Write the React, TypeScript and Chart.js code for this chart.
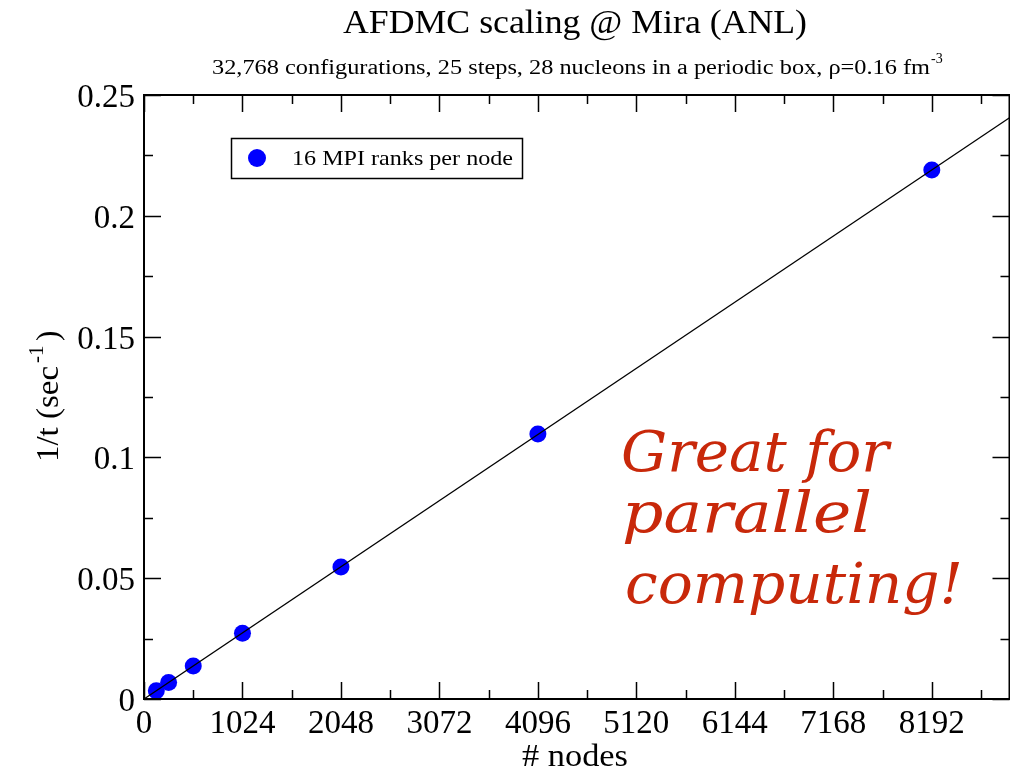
import React, { useEffect, useRef } from "react";
import { Chart, registerables } from "chart.js";

Chart.register(...registerables);

const nodes = [128, 256, 512, 1024, 2048, 4096, 8192];
const invTime = [0.0034, 0.0068, 0.0137, 0.0272, 0.0546, 0.1097, 0.2190];
const fitX = [0, 9000];
const fitY = [0, 0.2406];
const xTicks = [0, 1024, 2048, 3072, 4096, 5120, 6144, 7168, 8192];
const xMinorTicks = [512, 1536, 2560, 3584, 4608, 5632, 6656, 7680, 8704];
const yTicks = [0, 0.05, 0.1, 0.15, 0.2, 0.25];
const yMinorTicks = [0.025, 0.075, 0.125, 0.175, 0.225];
const yTickLabels = ["0", "0.05", "0.1", "0.15", "0.2", "0.25"];

const SERIF = "'Liberation Serif', 'Times New Roman', serif";

function fillStretched(ctx: any, text: string, x: number, y: number, target: number, align: "left" | "center" | "right") {
  const w = ctx.measureText(text).width;
  const sx = target / w;
  ctx.save();
  ctx.textAlign = "left";
  let x0 = x;
  if (align === "center") x0 = x - target / 2;
  if (align === "right") x0 = x - target;
  ctx.translate(x0, y);
  ctx.scale(sx, 1);
  ctx.fillText(text, 0, 0);
  ctx.restore();
}

const decorPlugin = {
  id: "decor",
  afterDraw(chart: any) {
    const ctx = chart.ctx;
    const { left, right, top, bottom } = chart.chartArea;
    const xs = chart.scales.x;
    const ys = chart.scales.y;
    ctx.save();
    // frame
    ctx.strokeStyle = "#000";
    ctx.lineWidth = 2;
    ctx.strokeRect(left, top, right - left, bottom - top);
    // ticks
    ctx.lineWidth = 1.5;
    ctx.beginPath();
    for (const v of xTicks) {
      const p = Math.round(xs.getPixelForValue(v)) + 0.5;
      ctx.moveTo(p, bottom); ctx.lineTo(p, bottom - 17);
      ctx.moveTo(p, top); ctx.lineTo(p, top + 17);
    }
    for (const v of xMinorTicks) {
      const p = Math.round(xs.getPixelForValue(v)) + 0.5;
      ctx.moveTo(p, bottom); ctx.lineTo(p, bottom - 9);
      ctx.moveTo(p, top); ctx.lineTo(p, top + 9);
    }
    for (const v of yTicks) {
      const p = Math.round(ys.getPixelForValue(v)) + 0.5;
      ctx.moveTo(left, p); ctx.lineTo(left + 17, p);
      ctx.moveTo(right, p); ctx.lineTo(right - 17, p);
    }
    for (const v of yMinorTicks) {
      const p = Math.round(ys.getPixelForValue(v)) + 0.5;
      ctx.moveTo(left, p); ctx.lineTo(left + 9, p);
      ctx.moveTo(right, p); ctx.lineTo(right - 9, p);
    }
    ctx.stroke();

    // tick labels
    ctx.fillStyle = "#000";
    ctx.textBaseline = "alphabetic";
    ctx.font = `33px ${SERIF}`;
    ctx.textAlign = "center";
    for (const v of xTicks) {
      ctx.fillText(String(v), xs.getPixelForValue(v), bottom + 34);
    }
    ctx.textAlign = "right";
    yTicks.forEach((v, i) => {
      ctx.fillText(yTickLabels[i], left - 9, ys.getPixelForValue(v) + 12);
    });

    // title
    ctx.font = `33px ${SERIF}`;
    fillStretched(ctx, "AFDMC scaling @ Mira (ANL)", 575, 33, 464, "center");

    // subtitle with superscript
    const sub = "32,768 configurations, 25 steps, 28 nucleons in a periodic box, \u03c1=0.16 fm";
    ctx.font = `20px ${SERIF}`;
    fillStretched(ctx, sub, 212, 74, 718, "left");
    ctx.font = `14px ${SERIF}`;
    ctx.textAlign = "left";
    ctx.fillText("-3", 931, 63);

    // x axis title
    ctx.font = `32px ${SERIF}`;
    fillStretched(ctx, "# nodes", 575, 766, 106, "center");

    // y axis title (rotated)
    ctx.save();
    ctx.translate(58, 462);
    ctx.rotate(-Math.PI / 2);
    ctx.font = `31px ${SERIF}`;
    fillStretched(ctx, "1/t (sec", 0, 0, 96, "left");
    ctx.font = `21px ${SERIF}`;
    ctx.textAlign = "left";
    ctx.fillText("-1", 99, -15);
    ctx.font = `31px ${SERIF}`;
    ctx.fillText(")", 121, 0);
    ctx.restore();

    // legend
    ctx.lineWidth = 1.5;
    ctx.strokeStyle = "#000";
    ctx.strokeRect(231.5, 138.5, 291, 40);
    ctx.fillStyle = "#0000ff";
    ctx.beginPath();
    ctx.arc(257, 158, 9, 0, Math.PI * 2);
    ctx.fill();
    ctx.fillStyle = "#000";
    ctx.font = `21px ${SERIF}`;
    fillStretched(ctx, "16 MPI ranks per node", 292, 165, 221, "left");

    // annotation
    ctx.fillStyle = "#c8280a";
    ctx.font = `italic 56px 'DejaVu Serif', serif`;
    fillStretched(ctx, "Great for", 621, 471, 268, "left");
    fillStretched(ctx, "parallel", 622, 532, 250, "left");
    fillStretched(ctx, "computing!", 625, 603, 338, "left");
    ctx.restore();
  },
};

export default function App() {
  const ref = useRef<HTMLCanvasElement>(null);
  useEffect(() => {
    if (!ref.current) return;
    const chart = new Chart(ref.current, {
      type: "scatter",
      data: {
        datasets: [
          {
            type: "line",
            data: fitX.map((x, i) => ({ x, y: fitY[i] })),
            borderColor: "#000",
            borderWidth: 1.3,
            pointRadius: 0,
            fill: false,
          } as any,
          {
            data: nodes.map((x, i) => ({ x, y: invTime[i] })),
            backgroundColor: "#0000ff",
            borderColor: "#0000ff",
            pointRadius: 8.5,
            pointBorderWidth: 0,
          },
        ],
      },
      options: {
        animation: false,
        responsive: false,
        layout: { padding: { left: 0, right: 1, top: 95, bottom: 0 } },
        plugins: { legend: { display: false }, tooltip: { enabled: false }, title: { display: false } },
        scales: {
          x: {
            type: "linear",
            min: 0,
            max: 9000,
            afterFit: (s: any) => { s.height = 71; s.paddingLeft = 0; s.paddingRight = 0; },
            ticks: { display: false },
            grid: { display: false, drawTicks: false },
            border: { display: false },
          },
          y: {
            type: "linear",
            min: 0,
            max: 0.25,
            afterFit: (s: any) => { s.width = 144; s.paddingTop = 0; s.paddingBottom = 0; },
            ticks: { display: false },
            grid: { display: false, drawTicks: false },
            border: { display: false },
          },
        },
      },
      plugins: [decorPlugin],
    });
    return () => chart.destroy();
  }, []);
  return (
    <div style={{ position: "absolute", left: 0, top: 0, width: 1010, height: 770, overflow: "hidden", background: "#fff" }}>
      <canvas ref={ref} width={1018} height={770} style={{ width: 1018, height: 770, display: "block" }} />
    </div>
  );
}
